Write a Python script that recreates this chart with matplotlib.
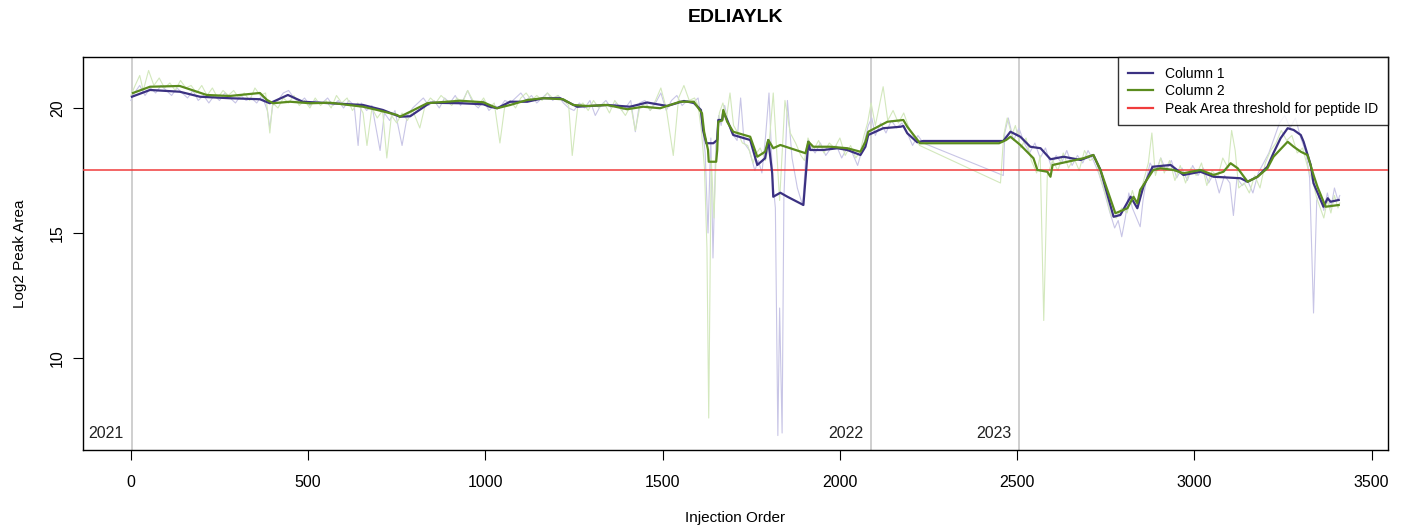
import numpy as np
import matplotlib.pyplot as plt
import matplotlib as mpl

mpl.rcParams['font.family'] = ['Liberation Sans', 'DejaVu Sans']
mpl.rcParams['axes.linewidth'] = 1

# smoothed peak area, column 1 (injection order, log2 area)
col1_x = [3, 54, 138, 195, 279, 364, 392, 443, 485, 562, 655, 711, 759, 788, 844, 929,
          994, 1013, 1033, 1070, 1118, 1163, 1211, 1259, 1344, 1408, 1456, 1513, 1560, 1588,
          1608, 1614, 1623, 1643, 1654, 1657, 1668, 1671, 1682, 1699, 1747, 1767, 1789, 1798,
          1809, 1812, 1832, 1852, 1897, 1905, 1911, 1916, 1953, 1993, 2021, 2058, 2072, 2080,
          2122, 2171, 2179, 2190, 2218, 2235, 2461, 2481, 2509, 2537, 2566, 2594, 2631, 2679,
          2715, 2735, 2772, 2791, 2820, 2839, 2856, 2882, 2933, 2969, 3017, 3054, 3130, 3150,
          3178, 3206, 3223, 3243, 3263, 3280, 3300, 3308, 3328, 3336, 3364, 3376, 3384, 3407]
col1_y = [20.45, 20.72, 20.65, 20.45, 20.39, 20.35, 20.19, 20.52, 20.25, 20.19, 20.12, 19.92,
          19.65, 19.67, 20.21, 20.19, 20.15, 20.05, 19.99, 20.25, 20.25, 20.39, 20.39, 20.05,
          20.12, 20.05, 20.22, 20.08, 20.28, 20.2, 19.92, 19.12, 18.59, 18.59, 18.72, 19.52,
          19.52, 19.85, 19.52, 18.92, 18.72, 17.72, 17.99, 18.72, 17.39, 16.45, 16.61, 16.45,
          16.12, 17.52, 18.65, 18.32, 18.32, 18.39, 18.32, 18.12, 18.45, 18.92, 19.19, 19.25,
          19.28, 18.99, 18.63, 18.68, 18.68, 19.05, 18.85, 18.45, 18.39, 17.95, 18.05, 17.92,
          18.12, 17.52, 15.65, 15.72, 16.45, 15.99, 16.85, 17.65, 17.72, 17.32, 17.45, 17.25,
          17.19, 17.05, 17.25, 17.65, 18.2, 18.79, 19.19, 19.12, 18.92, 18.65, 17.72, 16.99,
          16.05, 16.39, 16.25, 16.32]

# smoothed peak area, column 2
col2_x = [6, 54, 138, 214, 279, 364, 384, 401, 449, 505, 562, 655, 695, 751, 759, 788, 836,
          872, 929, 994, 1033, 1070, 1118, 1163, 1219, 1248, 1287, 1344, 1400, 1445, 1493, 1549,
          1588, 1611, 1617, 1628, 1630, 1651, 1654, 1657, 1668, 1671, 1682, 1699, 1747, 1767,
          1789, 1798, 1812, 1832, 1860, 1903, 1911, 1925, 1973, 2021, 2058, 2072, 2080, 2134,
          2179, 2190, 2226, 2449, 2469, 2481, 2509, 2546, 2557, 2585, 2594, 2600, 2642, 2687,
          2715, 2735, 2777, 2811, 2828, 2839, 2847, 2884, 2904, 2941, 2969, 3017, 3054, 3082,
          3102, 3122, 3150, 3178, 3206, 3223, 3263, 3280, 3300, 3319, 3336, 3347, 3370, 3407]
col2_y = [20.6, 20.85, 20.88, 20.52, 20.48, 20.6, 20.32, 20.19, 20.25, 20.19, 20.21, 20.05,
          19.92, 19.72, 19.65, 19.85, 20.19, 20.23, 20.29, 20.23, 19.99, 20.12, 20.32, 20.39,
          20.35, 20.12, 20.08, 20.12, 19.95, 20.05, 19.99, 20.25, 20.25, 19.79, 19.05, 18.32,
          17.85, 17.85, 18.32, 19.45, 19.5, 19.92, 19.45, 19.05, 18.85, 18.05, 18.25, 18.72,
          18.39, 18.52, 18.39, 18.19, 18.65, 18.45, 18.45, 18.39, 18.25, 18.65, 19.05, 19.45,
          19.52, 19.25, 18.59, 18.59, 18.72, 18.85, 18.52, 17.99, 17.52, 17.45, 17.25, 17.72,
          17.85, 17.99, 18.12, 17.52, 15.79, 15.99, 16.45, 16.19, 16.72, 17.52, 17.59, 17.52,
          17.39, 17.52, 17.32, 17.45, 17.79, 17.59, 17.05, 17.25, 17.59, 18.05, 18.65, 18.45,
          18.25, 18.12, 17.32, 16.85, 16.05, 16.12]

# raw injections, column 1
raw1_x = [0, 10, 25, 40, 55, 70, 85, 100, 115, 130, 145, 160, 175, 190, 205, 220, 235, 250,
          265, 280, 295, 310, 325, 340, 355, 370, 385, 392, 400, 415, 430, 445, 460, 475, 490,
          505, 520, 540, 555, 570, 585, 600, 615, 630, 641, 650, 665, 680, 703, 715, 730, 745,
          765, 780, 795, 810, 825, 840, 855, 870, 885, 900, 915, 930, 950, 965, 980, 995, 1010,
          1025, 1040, 1055, 1070, 1085, 1100, 1115, 1130, 1145, 1160, 1175, 1190, 1205, 1220,
          1235, 1250, 1265, 1280, 1295, 1310, 1325, 1340, 1355, 1370, 1385, 1400, 1410, 1423,
          1435, 1450, 1465, 1480, 1495, 1510, 1525, 1540, 1555, 1570, 1585, 1600, 1612, 1620,
          1628, 1636, 1642, 1650, 1658, 1665, 1675, 1685, 1695, 1710, 1720, 1730, 1745, 1760,
          1770, 1780, 1790, 1800, 1810, 1818, 1825, 1830, 1837, 1842, 1852, 1865, 1880, 1895,
          1905, 1915, 1930, 1945, 1960, 1975, 1990, 2005, 2020, 2035, 2050, 2060, 2070, 2080,
          2090, 2100, 2115, 2130, 2145, 2160, 2175, 2190, 2205, 2220, 2235, 2461, 2465, 2475,
          2490, 2505, 2520, 2535, 2550, 2565, 2580, 2595, 2610, 2625, 2640, 2655, 2670, 2685,
          2700, 2715, 2730, 2745, 2760, 2775, 2785, 2795, 2805, 2815, 2825, 2847, 2855, 2865,
          2875, 2890, 2905, 2920, 2935, 2950, 2965, 2980, 2995, 3010, 3025, 3040, 3055, 3070,
          3085, 3100, 3110, 3120, 3135, 3150, 3165, 3180, 3195, 3210, 3225, 3240, 3255, 3270,
          3285, 3300, 3315, 3325, 3336, 3345, 3355, 3365, 3375, 3385, 3395, 3405, 3410]
raw1_y = [20.3, 20.6, 20.9, 20.5, 20.8, 20.6, 20.9, 20.7, 20.5, 20.8, 20.6, 20.4, 20.7, 20.3,
          20.5, 20.2, 20.5, 20.3, 20.6, 20.4, 20.2, 20.5, 20.3, 20.4, 20.2, 20.5, 19.9, 19.2,
          20.1, 20.3, 20.6, 20.7, 20.4, 20.2, 20.4, 20.1, 20.3, 20.2, 20.4, 20.1, 20.3, 20.0,
          20.3, 20.1, 18.5, 20.2, 19.9, 20.1, 18.3, 19.8, 19.5, 19.9, 18.5, 19.7, 20.0, 20.2,
          20.4, 20.1, 20.3, 20.0, 20.4, 20.2, 20.5, 20.1, 20.7, 20.2, 20.0, 20.3, 19.9, 20.1,
          20.0, 20.3, 20.2, 20.4, 20.6, 20.3, 20.5, 20.2, 20.4, 20.6, 20.3, 20.5, 20.2, 20.0,
          19.9, 20.2, 20.0, 20.3, 19.7, 20.1, 20.3, 20.0, 20.2, 19.9, 20.1, 20.3, 19.05, 20.2,
          20.3, 19.9, 20.2, 20.6, 19.9, 20.3, 20.5, 20.1, 20.3, 20.2, 20.4, 19.3, 18.2, 15.0,
          18.8, 14.0, 18.5, 19.7, 19.3, 20.1, 19.4, 19.0, 18.7, 20.4, 18.6, 18.3, 17.5, 17.9,
          17.4, 18.8, 20.6, 17.2, 16.0, 6.9, 12.0, 7.0, 16.4, 20.3, 18.0, 16.8, 16.1, 18.3,
          18.5, 18.2, 18.6, 18.1, 18.4, 18.5, 18.0, 18.4, 18.2, 17.7, 18.2, 18.7, 19.3, 19.6,
          18.9, 19.4, 19.0, 19.5, 19.2, 19.4, 19.0, 18.5, 18.9, 18.6, 17.3, 19.0, 19.6, 18.7,
          19.2, 18.6, 18.2, 18.6, 18.0, 18.4, 17.7, 18.1, 17.8, 18.3, 17.7, 18.1, 17.8, 18.3,
          17.9, 17.4, 16.7, 15.9, 15.2, 15.5, 14.85, 15.6, 16.6, 16.0, 15.25, 16.3, 17.2, 17.8,
          17.4, 18.0, 17.5, 17.9, 17.2, 17.6, 17.1, 17.7, 17.3, 17.6, 17.0, 17.4, 16.6, 17.3,
          17.0, 15.7, 17.2, 16.9, 17.1, 16.6, 17.4, 17.8, 18.2, 18.8, 19.4, 19.7, 19.2, 19.6,
          18.8, 18.2, 17.2, 11.8, 16.3, 16.6, 15.9, 16.6, 16.0, 16.8, 16.3, 16.5]

# raw injections, column 2
raw2_x = [0, 12, 25, 35, 50, 65, 80, 95, 110, 125, 140, 155, 170, 185, 200, 215, 230, 245,
          260, 275, 290, 305, 320, 335, 350, 365, 380, 392, 400, 415, 430, 445, 460, 475, 490,
          505, 520, 535, 550, 565, 580, 595, 610, 625, 640, 655, 666, 680, 695, 710, 722, 735,
          750, 765, 780, 795, 815, 830, 845, 860, 875, 890, 905, 920, 935, 950, 965, 980, 995,
          1010, 1025, 1041, 1055, 1070, 1085, 1100, 1115, 1130, 1145, 1160, 1175, 1190, 1205,
          1220, 1235, 1245, 1260, 1275, 1290, 1305, 1320, 1335, 1350, 1365, 1380, 1395, 1410,
          1423, 1435, 1450, 1465, 1480, 1495, 1510, 1530, 1545, 1560, 1575, 1590, 1600, 1610,
          1618, 1625, 1630, 1637, 1645, 1652, 1660, 1670, 1680, 1690, 1700, 1712, 1725, 1740,
          1755, 1765, 1775, 1790, 1800, 1812, 1822, 1830, 1845, 1860, 1875, 1890, 1900, 1910,
          1925, 1940, 1955, 1970, 1985, 2000, 2015, 2030, 2045, 2058, 2068, 2078, 2088, 2100,
          2110, 2122, 2135, 2150, 2165, 2180, 2195, 2210, 2225, 2453, 2462, 2472, 2485, 2495,
          2510, 2525, 2540, 2555, 2565, 2575, 2585, 2600, 2615, 2630, 2645, 2660, 2675, 2690,
          2705, 2720, 2735, 2750, 2765, 2780, 2795, 2810, 2825, 2840, 2855, 2870, 2880, 2890,
          2905, 2915, 2930, 2945, 2960, 2975, 2990, 3005, 3020, 3035, 3050, 3065, 3080, 3095,
          3105, 3115, 3125, 3140, 3155, 3170, 3185, 3200, 3215, 3230, 3245, 3260, 3275, 3290,
          3305, 3320, 3335, 3345, 3355, 3365, 3375, 3385, 3395, 3405, 3410]
raw2_y = [20.5, 20.9, 21.3, 20.7, 21.5, 20.9, 21.2, 20.8, 21.0, 20.7, 21.1, 20.8, 20.9, 20.6,
          20.9, 20.5, 20.8, 20.4, 20.7, 20.5, 20.7, 20.4, 20.6, 20.3, 20.8, 20.5, 20.6, 19.0,
          20.2, 20.0, 20.4, 20.2, 20.5, 20.1, 20.3, 20.0, 20.4, 20.1, 20.3, 20.0, 20.5, 20.2,
          20.4, 19.9, 20.2, 19.8, 18.5, 20.0, 19.6, 19.9, 18.0, 19.7, 19.4, 19.8, 19.5, 19.9,
          19.2, 20.1, 20.4, 20.2, 20.5, 20.3, 20.1, 20.4, 20.2, 20.7, 20.3, 20.1, 20.4, 20.0,
          20.2, 18.6, 20.1, 20.3, 20.0, 20.4, 20.6, 20.3, 20.5, 20.3, 20.6, 20.4, 20.5, 20.3,
          20.1, 18.1, 20.0, 20.2, 19.9, 20.3, 20.0, 20.2, 19.8, 20.3, 20.0, 19.7, 20.1, 19.1,
          20.0, 20.2, 19.9, 20.3, 20.8, 20.0, 18.1, 20.4, 20.9, 20.3, 20.4, 20.1, 19.0, 17.6,
          14.4, 7.6, 18.0, 15.6, 18.6, 19.8, 20.2, 19.6, 20.6, 19.3, 19.0, 18.6, 18.5, 17.8,
          18.2, 18.4, 17.9, 18.5, 20.6, 18.2, 16.3, 20.3, 19.0, 18.6, 18.1, 17.9, 18.8, 18.3,
          18.7, 18.2, 18.6, 18.4, 18.8, 18.1, 18.5, 18.0, 18.3, 18.9, 19.4, 20.2, 19.3, 20.0,
          20.85, 19.5, 19.9, 19.4, 19.8, 19.2, 18.8, 18.5, 17.0, 18.9, 19.6, 18.9, 19.3, 18.4,
          18.8, 17.9, 17.4, 18.1, 11.5, 17.3, 17.9, 17.5, 18.2, 17.6, 18.0, 17.5, 18.3, 17.9,
          18.0, 17.2, 16.5, 15.7, 15.6, 16.0, 15.8, 16.7, 16.0, 17.0, 17.8, 19.0, 17.3, 18.0,
          17.4, 17.9, 17.1, 17.7, 17.0, 17.6, 17.3, 17.8, 16.9, 17.5, 17.2, 18.0, 17.6, 19.1,
          18.3, 16.8, 17.0, 16.6, 17.3, 16.8, 17.8, 18.3, 18.6, 19.1, 18.7, 18.9, 18.2, 18.4,
          17.6, 17.0, 16.4, 16.0, 15.6, 16.3, 15.8, 16.5, 16.0, 16.2]

years = ['2021', '2022', '2023']
year_start = [2, 2089, 2506]
threshold = 17.5

c1 = '#3b3182'
c2 = '#5b8c1e'
c1_raw = '#c8c5e6'
c2_raw = '#d3e8bd'
c_thr = '#f03c3c'

fig = plt.figure(figsize=(14.02, 5.31), dpi=100)
ax = fig.add_axes([0.0592, 0.1525, 0.9308, 0.7402])

for xv in year_start:
    ax.axvline(xv, color='#cccccc', lw=1.3, zorder=1)

ax.plot(raw1_x, raw1_y, color=c1_raw, lw=0.8, zorder=2)
ax.plot(raw2_x, raw2_y, color=c2_raw, lw=0.8, zorder=2)
ax.axhline(threshold, color=c_thr, lw=1.1, zorder=3)
ax.plot(col1_x, col1_y, color=c1, lw=1.6, zorder=4)
ax.plot(col2_x, col2_y, color=c2, lw=1.6, zorder=5)

for xv, yr in zip(year_start, years):
    ax.text(xv - 22, 7.0, yr, ha='right', va='center', fontsize=11.5, color='#222222')

ax.set_xlim(-135, 3546)
ax.set_ylim(6.32, 22.04)
ax.set_xticks([0, 500, 1000, 1500, 2000, 2500, 3000, 3500])
ax.set_yticks([10, 15, 20])
ax.tick_params(axis='x', length=7, pad=11, labelsize=11.5)
ax.tick_params(axis='y', length=7, pad=6, labelsize=11.5)
for lab in ax.get_yticklabels():
    lab.set_rotation(90)
    lab.set_va('center')

ax.set_xlabel('Injection Order', fontsize=11)
ax.set_ylabel('Log2 Peak Area', fontsize=11)
ax.xaxis.set_label_coords(0.5, -0.155)
ax.yaxis.set_label_coords(-0.043, 0.5)
ax.set_title('EDLIAYLK', fontsize=14, fontweight='bold', pad=25)

handles = [mpl.lines.Line2D([], [], color=c1, lw=1.6),
           mpl.lines.Line2D([], [], color=c2, lw=1.6),
           mpl.lines.Line2D([], [], color=c_thr, lw=1.6)]
leg = ax.legend(handles=handles,
                labels=['Column 1', 'Column 2', 'Peak Area threshold for peptide ID'],
                loc='upper right', fontsize=10, frameon=True, fancybox=False,
                edgecolor='black', borderaxespad=0, handlelength=1.8, handletextpad=0.9,
                labelspacing=0.25, borderpad=0.7)
leg.get_frame().set_linewidth(1)

fig.savefig('out.png', dpi=100)
